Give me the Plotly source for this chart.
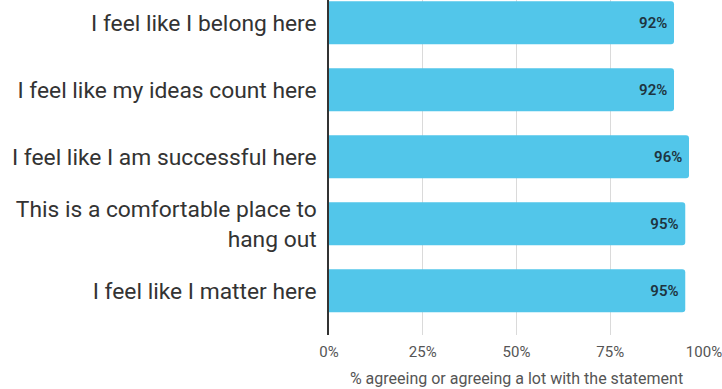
import plotly.graph_objects as go

statements = [
    "I feel like I belong here",
    "I feel like my ideas count here",
    "I feel like I am successful here",
    "This is a comfortable place to<br>hang out",
    "I feel like I matter here",
]
agree_pct = [92, 92, 96, 95, 95]
x_ticks = [0, 25, 50, 75, 100]
x_tick_labels = ["0%", "25%", "50%", "75%", "100%"]

fig = go.Figure(
    go.Bar(
        x=agree_pct,
        y=statements,
        orientation="h",
        marker=dict(color="#52C6EA", cornerradius=3, line=dict(width=0)),
        text=[f"{v}%\u00a0" for v in agree_pct],
        textposition="inside",
        insidetextanchor="end",
        textfont=dict(family="Roboto", size=15, color="#1E3440", weight=600),
        width=0.64,
        cliponaxis=False,
    )
)

fig.update_layout(
    width=722,
    height=389,
    margin=dict(l=329, r=16, t=0, b=54),
    paper_bgcolor="white",
    plot_bgcolor="white",
    showlegend=False,
    font=dict(family="Roboto", color="#333"),
)

fig.update_xaxes(
    range=[0, 100],
    tickvals=x_ticks,
    ticktext=x_tick_labels,
    showgrid=True,
    gridcolor="#DADADA",
    gridwidth=1,
    zeroline=False,
    showline=False,
    tickfont=dict(family="Roboto", size=15, color="#555"),
    ticklabeloverflow="allow",
    title=dict(
        text="% agreeing or agreeing a lot with the statement",
        font=dict(family="Roboto", size=16, color="#555"),
        standoff=12,
    ),
    ticks="",
    ticklabelstandoff=6,
)

fig.update_yaxes(
    categoryorder="array",
    categoryarray=statements,
    range=[4.66, -0.34],
    showgrid=False,
    showline=True,
    linecolor="#333",
    linewidth=1.5,
    tickfont=dict(family="Roboto", size=22.8, color="#333"),
    ticks="",
    ticklabelstandoff=6,
)

fig.write_html("out.html")
